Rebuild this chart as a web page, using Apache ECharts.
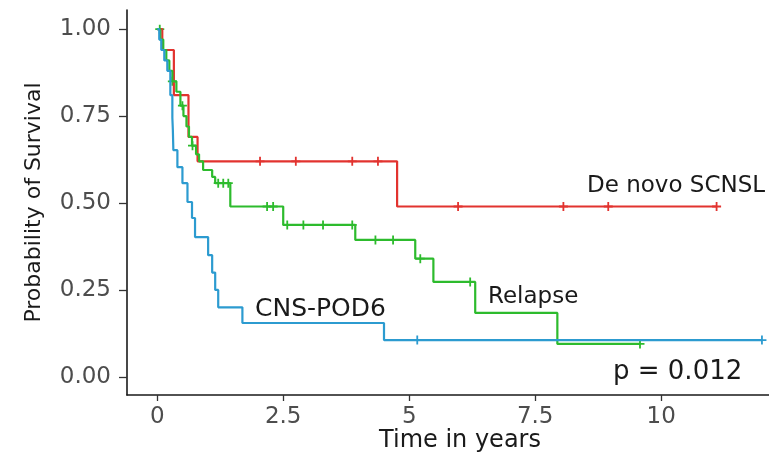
<!DOCTYPE html>
<html>
<head>
<meta charset="utf-8">
<script src="https://cdn.jsdelivr.net/npm/echarts@6/dist/echarts.min.js"></script>
<style>
  html, body { margin: 0; padding: 0; background: #fff; }
  #chart { width: 769px; height: 459px; }
</style>
</head>
<body>
<div id="chart"></div>
<script>
// x ticks / y ticks
const xTicks = [0, 2.5, 5, 7.5, 10]
const yTicks = [0, 0.25, 0.5, 0.75, 1]

// De novo SCNSL (red)
const redTimes = [0, 0.1, 0.33, 0.62, 0.8, 4.76, 11.1]
const redSurv = [1, 0.94, 0.81, 0.69, 0.62, 0.49, 0.49]
const redCensorTimes = [2.04, 2.75, 3.87, 4.38, 5.97, 8.06, 8.95, 11.1]
const redCensorSurv = [0.62, 0.62, 0.62, 0.62, 0.49, 0.49, 0.49, 0.49]

// Relapse (green)
const greenTimes = [0, 0.06, 0.12, 0.18, 0.24, 0.3, 0.38, 0.46, 0.52, 0.58, 0.63, 0.69, 0.77, 0.83, 0.91, 1.09, 1.15, 1.45, 2.5, 3.93, 5.12, 5.48, 6.31, 7.94, 9.58]
const greenSurv = [1, 0.97, 0.94, 0.91, 0.88, 0.85, 0.82, 0.78, 0.75, 0.72, 0.69, 0.665, 0.64, 0.62, 0.595, 0.575, 0.557, 0.49, 0.437, 0.394, 0.34, 0.273, 0.184, 0.095, 0.095]
const greenCensorTimes = [0.05, 0.3, 0.5, 0.7, 1.21, 1.31, 1.41, 2.18, 2.3, 2.58, 2.9, 3.29, 3.87, 4.33, 4.68, 5.22, 6.21, 9.58]
const greenCensorSurv = [1, 0.85, 0.78, 0.665, 0.557, 0.557, 0.557, 0.49, 0.49, 0.437, 0.437, 0.437, 0.437, 0.394, 0.394, 0.34, 0.273, 0.095]

// CNS-POD6 (blue)
const blueTimes = [0, 0.04, 0.08, 0.14, 0.2, 0.26, 0.3, 0.31, 0.32, 0.4, 0.5, 0.6, 0.69, 0.75, 1.01, 1.09, 1.15, 1.21, 1.69, 4.5, 12.0]
const blueSurv = [1, 0.97, 0.94, 0.91, 0.88, 0.81, 0.745, 0.71, 0.652, 0.603, 0.557, 0.503, 0.457, 0.402, 0.35, 0.3, 0.25, 0.2, 0.155, 0.106, 0.106]
const blueCensorTimes = [5.16, 12.0]
const blueCensorSurv = [0.106, 0.106]

const RED = '#E2332F'
const GREEN = '#2DBB2D'
const BLUE = '#2C9BD0'
const FONT = 'DejaVu Sans'
const plus = 'path://M4,0h2v4h4v2h-4v4h-2v-4h-4v-2h4z'

function zip(xs, ys) {
  return xs.map((x, i) => [x, ys[i]])
}

function curve(name, times, surv, color) {
  return {
    name: name,
    type: 'line',
    step: 'end',
    data: zip(times, surv),
    showSymbol: false,
    lineStyle: { color: color, width: 2.2 },
    itemStyle: { color: color },
    silent: true
  }
}

function censor(name, times, surv, color) {
  return {
    name: name,
    type: 'scatter',
    data: zip(times, surv),
    symbol: plus,
    symbolSize: 9,
    itemStyle: { color: color, opacity: 1 },
    silent: true
  }
}

// plain text label (annotation)
function label(text, x, y, size, align) {
  return {
    type: 'text',
    silent: true,
    style: {
      text: text, x: x, y: y,
      font: size + 'px "DejaVu Sans"',
      fill: '#1a1a1a',
      textAlign: align || 'left',
      textVerticalAlign: 'middle'
    }
  }
}

const chart = echarts.init(document.getElementById('chart'))

let option = {
  animation: false,
  backgroundColor: '#fff',
  grid: { left: 127, right: 0, top: 10, bottom: 64 },
  xAxis: {
    type: 'value',
    min: -0.6,
    max: 12.14,
    splitLine: { show: false },
    axisLine: { onZero: false, lineStyle: { color: '#1a1a1a', width: 1.6 } },
    axisTick: { customValues: xTicks, length: 6, lineStyle: { color: '#333', width: 1.3 } },
    axisLabel: {
      customValues: xTicks,
      fontFamily: FONT, fontSize: 23, color: '#4d4d4d', margin: 11
    }
  },
  yAxis: {
    type: 'value',
    min: -0.052,
    max: 1.055,
    name: 'Probability of Survival',
    nameLocation: 'middle',
    nameGap: 82,
    nameRotate: 90,
    nameTextStyle: { fontFamily: FONT, fontSize: 22, color: '#1a1a1a' },
    splitLine: { show: false },
    axisLine: { show: true, onZero: false, lineStyle: { color: '#1a1a1a', width: 1.6 } },
    axisTick: { show: true, customValues: yTicks, length: 8, lineStyle: { color: '#333', width: 1.3 } },
    axisLabel: {
      customValues: yTicks,
      formatter: (v) => v.toFixed(2),
      fontFamily: FONT, fontSize: 23, color: '#4d4d4d', margin: 16
    }
  },
  graphic: [
    label('De novo SCNSL', 587, 186, 23),
    label('Relapse', 488, 297, 23),
    label('CNS-POD6', 255, 309, 25),
    label('p = 0.012', 613, 372, 26),
    label('Time in years', 460, 441, 24, 'center')
  ],
  series: [
    curve('De novo SCNSL', redTimes, redSurv, RED),
    censor('De novo SCNSL censor', redCensorTimes, redCensorSurv, RED),
    curve('Relapse', greenTimes, greenSurv, GREEN),
    censor('Relapse censor', greenCensorTimes, greenCensorSurv, GREEN),
    curve('CNS-POD6', blueTimes, blueSurv, BLUE),
    censor('CNS-POD6 censor', blueCensorTimes, blueCensorSurv, BLUE)
  ]
}

chart.setOption(option)
</script>
</body>
</html>
